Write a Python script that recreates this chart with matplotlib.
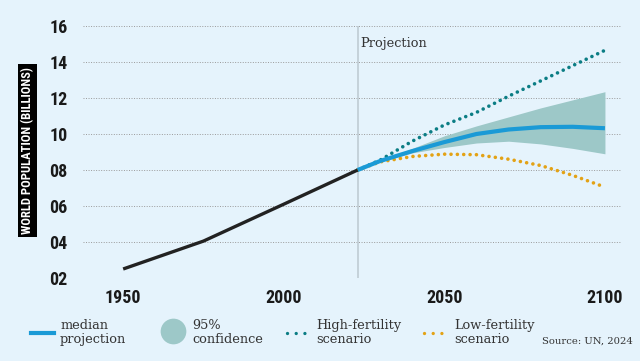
import numpy as np
import matplotlib.pyplot as plt
from matplotlib.lines import Line2D
from matplotlib import font_manager

# historical
hist_years = [1950, 1975, 2000, 2023]
hist_pop = [2.5, 4.05, 6.1, 8.0]

# projections
proj_years = [2023, 2030, 2040, 2050, 2060, 2070, 2080, 2090, 2100]
median = [8.0, 8.5, 9.05, 9.55, 10.0, 10.25, 10.38, 10.4, 10.32]
conf_hi = [8.0, 8.55, 9.2, 9.9, 10.45, 10.95, 11.45, 11.9, 12.35]
conf_lo = [8.0, 8.45, 8.95, 9.25, 9.5, 9.6, 9.45, 9.2, 8.9]
high_fert = [8.0, 8.55, 9.6, 10.5, 11.2, 12.1, 12.95, 13.8, 14.65]
low_fert = [8.0, 8.45, 8.75, 8.88, 8.85, 8.6, 8.25, 7.7, 7.05]

xticks = [1950, 2000, 2050, 2100]
yticks = [2, 4, 6, 8, 10, 12, 14, 16]
proj_start = 2023

BG = '#e5f3fc'
BLACK = '#222222'
BLUE = '#1a9ad6'
BAND = '#9dc8c8'
TEAL = '#0b7d84'
ORANGE = '#e3a215'
SERIF = 'DejaVu Serif'

# pick a narrow sans if one is installed
fonts = [(f.name, f.stretch) for f in font_manager.fontManager.ttflist]
names = {n for n, s in fonts}
NARROW, STRETCH = 'DejaVu Sans', 'normal'
for cand in ['Liberation Sans Narrow', 'Roboto Condensed', 'Open Sans Condensed']:
    if cand in names:
        NARROW = cand
        break
else:
    if ('DejaVu Sans', 'condensed') in fonts or ('DejaVu Sans', 'semi-condensed') in fonts:
        STRETCH = 'condensed'
NARROW_OK = NARROW != 'DejaVu Sans' or STRETCH == 'condensed'
TICK_FS = 13 if NARROW_OK else 10.5
YLAB_FS = 9 if NARROW_OK else 7.3

fig = plt.figure(figsize=(6.4, 3.61), dpi=100, facecolor=BG)
ax = fig.add_axes([83/640, 83/361, 538/640, 252/361])
ax.set_facecolor(BG)

ax.set_xlim(1937.5, 2105)
ax.set_ylim(2, 16)

for y in yticks:
    ax.axhline(y, color='#9a9a9a', lw=0.7, ls=(0, (1, 1.6)), zorder=1)
ax.vlines(proj_start, 2, 16, color='#bcc8d0', lw=1.1, zorder=1)
ax.text(proj_start + 0.9, 15.05, 'Projection', family=SERIF, fontsize=9.3,
        color='#333333', va='center')

ax.fill_between(proj_years, conf_lo, conf_hi, color=BAND, lw=0, zorder=2)
ax.plot(proj_years, high_fert, color=TEAL, lw=2.6, ls=(0, (0.01, 1.75)),
        dash_capstyle='round', zorder=3)
ax.plot(proj_years, low_fert, color=ORANGE, lw=2.6, ls=(0, (0.01, 1.75)),
        dash_capstyle='round', zorder=3)
ax.plot(proj_years, median, color=BLUE, lw=3.0, solid_capstyle='butt', zorder=4)
ax.plot(hist_years, hist_pop, color=BLACK, lw=2.4, solid_capstyle='butt', zorder=5)

for s in ax.spines.values():
    s.set_visible(False)
ax.set_xticks(xticks)
ax.set_yticks(yticks)
ax.set_yticklabels(['%02d' % v for v in yticks])
ax.tick_params(length=0)
ax.tick_params(axis='x', pad=8)
ax.tick_params(axis='y', pad=11)
for lab in ax.get_xticklabels() + ax.get_yticklabels():
    lab.set_family(NARROW)
    lab.set_stretch(STRETCH)
    lab.set_fontweight('bold')
    lab.set_fontsize(TICK_FS)
    lab.set_color('#1a1a1a')

fig.text(27.5/640, 1 - 150.5/361, 'WORLD POPULATION (BILLIONS)', rotation=90,
         ha='center', va='center', color='white', fontsize=YLAB_FS,
         family=NARROW, stretch=STRETCH, fontweight='bold',
         bbox=dict(boxstyle='square,pad=0.22', fc='black', ec='none'))

# legend row, laid out in pixel coordinates
lg = fig.add_axes([0, 0, 1, 1], facecolor='none')
lg.set_xlim(0, 640)
lg.set_ylim(361, 0)
lg.axis('off')
lg.add_line(Line2D([31, 54], [332.5, 332.5], color=BLUE, lw=3.0))
lg.add_line(Line2D([173], [331], marker='o', ms=18.5, color=BAND, mec='none'))
lg.add_line(Line2D([287, 309], [332.5, 332.5], color=TEAL, lw=2.4,
                   ls=(0, (0.01, 2.6)), dash_capstyle='round'))
lg.add_line(Line2D([424, 447], [332.5, 332.5], color=ORANGE, lw=2.4,
                   ls=(0, (0.01, 2.6)), dash_capstyle='round'))
labels = [(60, 'median\nprojection'), (192, '95%\nconfidence'),
          (316, 'High-fertility\nscenario'), (454, 'Low-fertility\nscenario')]
for x, t in labels:
    lg.text(x, 332.5, t, family=SERIF, fontsize=9.3, color='#333333',
            va='center', ha='left', linespacing=1.1)
lg.text(633, 341, 'Source: UN, 2024', family=SERIF, fontsize=7.2,
        color='#333333', va='center', ha='right')

fig.savefig('out.png', dpi=100, facecolor=BG)
